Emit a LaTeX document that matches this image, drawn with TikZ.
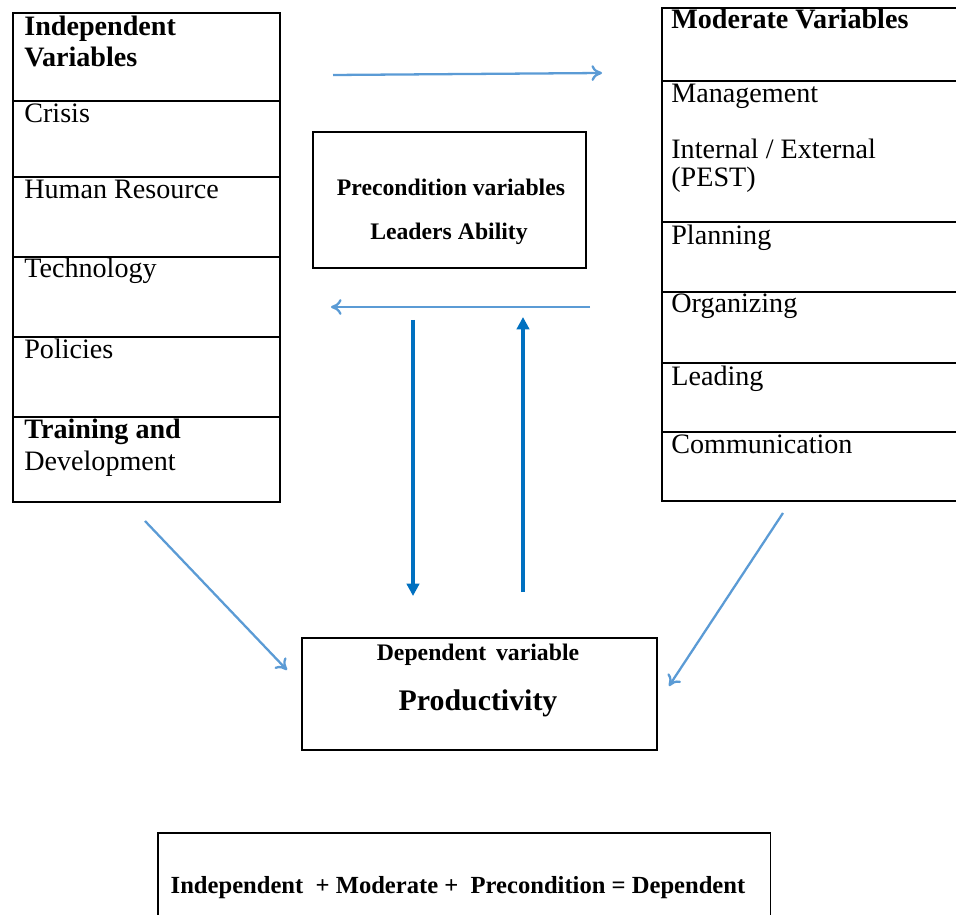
\documentclass[tikz,border=0pt]{standalone}
\usepackage{fontspec}
\setmainfont{Liberation Serif}
\usepackage{tikz}
\usetikzlibrary{arrows.meta, positioning}
\definecolor{lightarrow}{RGB}{91,155,213}
\definecolor{darkarrow}{RGB}{0,112,192}

\begin{document}
\begin{tikzpicture}[x=0.02cm, y=-0.02cm,
  cell/.style={draw, line width=0.9pt, anchor=north west, inner sep=0},
  txt/.style={anchor=base west, inner sep=0, font=\fontsize{16}{19}\selectfont},
  head/.style={txt, font=\fontsize{16}{19}\selectfont\bfseries},
  mid/.style={anchor=base, inner sep=0, font=\fontsize{13.5}{16}\selectfont\bfseries},
  thin/.style={draw=lightarrow, line width=1.3pt, -{To[length=6pt,width=9pt]}},
  thick/.style={draw=darkarrow, line width=2.2pt, -{Triangle[length=7pt,width=7pt]}}]
\useasboundingbox (0,0) rectangle (956,915);
\clip (0,0) rectangle (956,915);
%
% independent column
\node (i0) [cell, minimum width=5.34cm, minimum height=1.76cm] at (12,12) {};
\node (i1) [cell, minimum width=5.34cm, minimum height=1.52cm] at (12,100) {};
\node (i2) [cell, minimum width=5.34cm, minimum height=1.6cm] at (12,176) {};
\node (i3) [cell, minimum width=5.34cm, minimum height=1.6cm] at (12,256) {};
\node (i4) [cell, minimum width=5.34cm, minimum height=1.6cm] at (12,336) {};
\node (i5) [cell, minimum width=5.34cm, minimum height=1.7cm] at (12,416) {};
\node [head] at (24,36) {Independent};
\node [head] at (24,67) {Variables};
\node [txt] at (24,123) {Crisis};
\node [txt] at (24,199) {Human Resource};
\node [txt] at (24,278) {Technology};
\node [txt] at (24,358) {Policies};
\node [head] at (24,438) {Training and};
\node [txt] at (24,470) {Development};
%
% moderate column
\node (m0) [cell, minimum width=6.18cm, minimum height=1.46cm] at (661,7) {};
\node (m1) [cell, minimum width=6.18cm, minimum height=2.82cm] at (661,80) {};
\node (m2) [cell, minimum width=6.18cm, minimum height=1.4cm] at (661,221) {};
\node (m3) [cell, minimum width=6.18cm, minimum height=1.42cm] at (661,291) {};
\node (m4) [cell, minimum width=6.18cm, minimum height=1.38cm] at (661,362) {};
\node (m5) [cell, minimum width=6.18cm, minimum height=1.38cm] at (661,431) {};
\node [head] at (671,29) {Moderate Variables};
\node [txt] at (671,103) {Management};
\node [txt] at (671,159) {Internal / External};
\node [txt] at (671,187) {(PEST)};
\node [txt] at (671,245) {Planning};
\node [txt] at (671,313) {Organizing};
\node [txt] at (671,385) {Leading};
\node [txt] at (671,453) {Communication};
%
% precondition, dependent, sum
\node (pre) [cell, minimum width=5.46cm, minimum height=2.72cm] at (312,131) {};
\node [mid] at (451,196) {Precondition variables};
\node [mid] at (449,240) {Leaders Ability};
\node (dep) [cell, minimum width=7.1cm, minimum height=2.24cm] at (301,637) {};
\node [mid] at (478,660) {Dependent\, variable};
\node [mid, font=\fontsize{17}{20}\selectfont\bfseries] at (478,710) {Productivity};
\node (sum) [cell, minimum width=12.26cm, minimum height=2.3cm] at (157,832) {};
\node [mid, font=\fontsize{14}{17}\selectfont\bfseries] at (458,893) {Independent \ + Moderate + \ Precondition = Dependent};
%
% arrow ends
\coordinate (a1) at (333,75);  \coordinate (b1) at (602,73);
\coordinate (a2) at (590,307); \coordinate (b2) at (331,307);
\coordinate (a3) at (413,320); \coordinate (b3) at (413,596);
\coordinate (a4) at (523,592); \coordinate (b4) at (523,317);
\coordinate (a5) at (145,521); \coordinate (b5) at (287,670);
\coordinate (a6) at (783,513); \coordinate (b6) at (669,686);
\draw [thin] (a1) -- (b1);
\draw [thin] (a2) -- (b2);
\draw [thick] (a3) -- (b3);
\draw [thick] (a4) -- (b4);
\draw [thin] (a5) -- (b5);
\draw [thin] (a6) -- (b6);
%
\end{tikzpicture}
\end{document}
